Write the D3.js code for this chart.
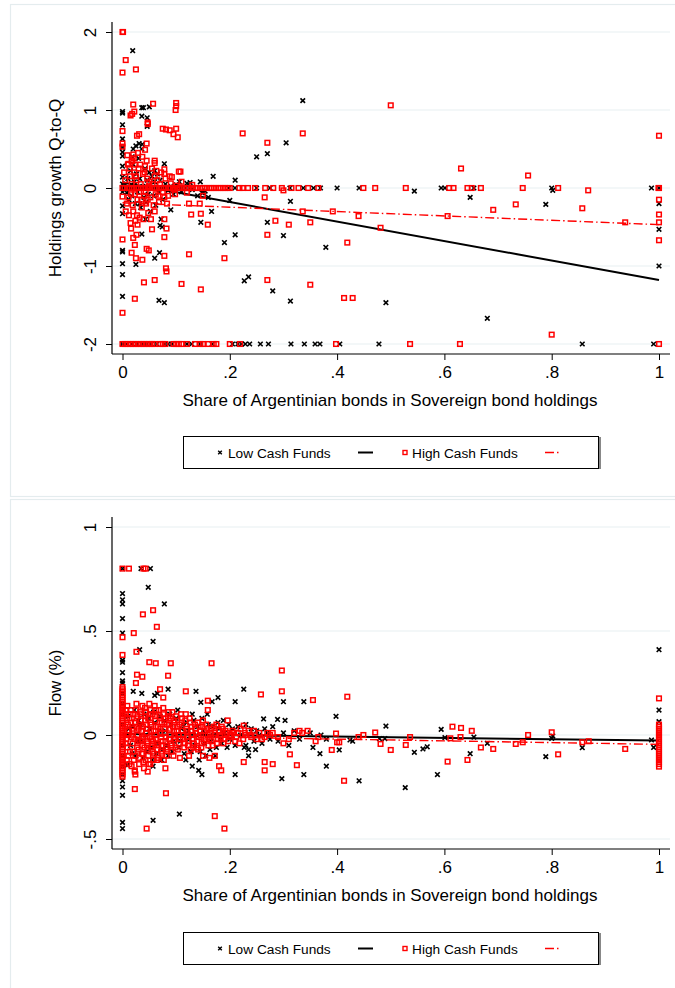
<!DOCTYPE html>
<html><head><meta charset="utf-8">
<script src="https://cdn.jsdelivr.net/npm/d3@7"></script>
<style>body{margin:0;background:#fff}svg{display:block}text{font-family:"Liberation Sans",Arial,sans-serif;fill:#000}</style>
</head><body><div id="chart"></div>
<script>
// ---------------- DATA ----------------
const xTicks = [0, 0.2, 0.4, 0.6, 0.8, 1];
const xTickLabels = ["0", ".2", ".4", ".6", ".8", "1"];
const xTitle = "Share of Argentinian bonds in Sovereign bond holdings";
const legendLabels = ["Low Cash Funds", "High Cash Funds"];

// Panel 1: Holdings growth Q-to-Q
const topYTicks = [-2, -1, 0, 1, 2];
const topYTickLabels = ["-2", "-1", "0", "1", "2"];
const topYTitle = "Holdings growth Q-to-Q";
const topLowFit = [0.07, -1.25];   // intercept, slope
const topHighFit = [-0.19, -0.28];
const topLowZeroX = [0,0.003,0.007,0.01,0.014,0.018,0.021,0.025,0.029,0.033,0.036,0.04,0.044,0.047,0.051,0.055,0.059,0.062,0.066,0.07,0.074,0.078,0.083,0.088,0.093,0.099,0.104,0.11,0.117,0.124,0.131,0.1975,0.2097,0.25,0.275,0.312,0.337,0.356,0.369,0.40,0.441,0.594,0.601,0.655,0.80,0.986,1.0];
const topLowMinus2X = [0,0.0075,0.017,0.026,0.036,0.045,0.054,0.064,0.079,0.085,0.092,0.12,0.129,0.145,0.167,0.205,0.215,0.222,0.229,0.237,0.257,0.272,0.314,0.339,0.359,0.368,0.405,0.478,0.857,0.99];
const topLowZeroColY = [0.98,0.96,0.81,0.63,0.52,0.46,0.41,0.28,0.14,0.05,-0.05,-0.23,-0.33,-0.8,-0.82,-0.97,-1.11,-1.39];
const topLowPts = [[0.019,1.76],[0.036,1.03],[0.039,1.03],[0.05,1.04],[0.036,0.92],[0.046,0.9],[0.046,0.79],[0.02,0.5],[0.025,0.54],[0.031,0.57],[0.037,0.56],[0.018,0.4],[0.078,0.31],[0.06,0.22],[0.169,0.15],[0.21,0.1],[0.145,0.08],[0.126,0.07],[0.106,0.08],[0.148,-0.06],[0.154,-0.04],[0.25,0.4],[0.27,0.44],[0.305,0.58],[0.336,1.12],[0.2,-0.16],[0.166,-0.3],[0.146,-0.44],[0.21,-0.6],[0.19,-0.7],[0.27,-0.44],[0.3,-0.61],[0.313,-0.17],[0.379,-0.76],[0.09,-0.28],[0.072,-0.4],[0.07,-0.48],[0.074,-0.5],[0.069,-0.83],[0.06,-0.9],[0.025,-0.98],[0.068,-1.44],[0.078,-1.47],[0.227,-1.19],[0.235,-1.14],[0.28,-1.32],[0.313,-1.45],[0.036,-0.59],[0.043,-0.4],[0.032,-0.2],[0.544,-0.04],[0.648,-0.12],[0.789,-0.21],[0.802,-0.03],[1.0,-0.2],[1.0,-0.53],[1.0,-1.0],[0.491,-1.47],[0.68,-1.67],
 [0.005,0.05],[0.008,-0.06],[0.01,0.12],[0.012,-0.15],[0.015,0.22],[0.017,-0.1],[0.02,0.3],[0.022,0.08],[0.024,-0.2],[0.026,0.18],[0.028,-0.05],[0.03,0.38],[0.032,0.12],[0.034,-0.25],[0.036,0.5],[0.038,0.02],[0.04,-0.12],[0.042,0.25],[0.044,-0.18],[0.046,0.1],[0.048,-0.08],[0.05,0.2],[0.052,-0.3],[0.055,0.15],[0.058,-0.1],[0.06,0.08],[0.062,-0.22],[0.065,0.18],[0.068,-0.06],[0.07,0.1],[0.075,-0.15],[0.08,0.05],[0.085,-0.03],[0.09,0.02],[0.095,-0.08],[0.1,0.04],[0.11,-0.05],[0.12,0.06],[0.13,-0.02],[0.14,-0.1],[0.15,-0.06],[0.16,-0.12]];
const topHighZeroX = [0,0.004,0.009,0.013,0.017,0.021,0.026,0.03,0.034,0.038,0.043,0.047,0.051,0.055,0.06,0.064,0.068,0.072,0.077,0.081,0.085,0.089,0.094,0.098,0.102,0.106,0.111,0.115,0.119,0.123,0.128,0.132,0.136,0.14,0.145,0.149,0.153,0.157,0.162,0.166,0.17,0.174,0.179,0.183,0.187,0.191,0.196,0.2,0.218,0.224,0.234,0.247,0.266,0.281,0.297,0.315,0.328,0.346,0.365,0.449,0.471,0.528,0.609,0.617,0.643,0.651,0.668,0.746,0.812,1.0];
const topHighMinus2X = [0,0.005,0.01,0.015,0.02,0.025,0.03,0.035,0.04,0.045,0.05,0.055,0.06,0.07,0.075,0.08,0.095,0.1,0.105,0.11,0.12,0.135,0.145,0.15,0.16,0.17,0.175,0.2,0.219,0.398,0.536,0.629,1.0];
const topHighPts = [[0,2],[0.001,2],[0.006,1.64],[0,1.48],[0.025,1.52],[0.02,1.07],[0.022,0.98],[0.015,0.93],[0.018,0.95],[0.057,1.08],[0.1,1.09],[0.1,1.05],[0.099,1.0],[0,0.73],[0,0.57],[0,0.53],[0.027,0.67],[0.031,0.69],[0.047,0.84],[0.047,0.82],[0.075,0.76],[0.081,0.75],[0.088,0.74],[0.095,0.69],[0.1,0.76],[0.103,0.65],[0.045,0.57],[0.042,0.49],[0.02,0.43],[0.017,0.34],[0.023,0.3],[0.011,0.31],[0.06,0.35],[0.06,0.32],[0.078,0.24],[0.078,0.18],[0.092,0.14],[0.105,0.21],[0.108,0.21],[0.224,0.7],[0.336,0.7],[0.27,0.58],[0.265,-0.12],[0.3,-0.03],[0.124,-0.2],[0.144,-0.2],[0.128,-0.34],[0.146,-0.33],[0.159,-0.47],[0.083,-0.2],[0.078,-0.4],[0.082,-0.52],[0.078,-0.63],[0.055,-0.53],[0.016,-0.52],[0.02,-0.64],[0.023,-0.73],[0.026,-0.6],[0.028,-0.47],[0,-0.66],[0.045,-0.78],[0.049,-0.8],[0.017,-0.83],[0.025,-0.9],[0.037,-0.92],[0.078,-0.87],[0.081,-1.03],[0.082,-1.07],[0.124,-0.85],[0.19,-0.9],[0.04,-1.21],[0.06,-1.18],[0.11,-1.23],[0.146,-1.3],[0.27,-1.18],[0.35,-1.24],[0.31,-0.47],[0.285,-0.42],[0.27,-0.6],[0.35,-0.44],[0.023,-1.42],[0,-1.6],[0.336,-0.3],[0.392,-0.3],[0,-0.11],
 [0.5,1.06],[1.0,0.67],[0.631,0.25],[0.756,0.16],[0.868,-0.03],[1.0,-0.15],[0.733,-0.21],[0.691,-0.28],[0.857,-0.26],[0.44,-0.36],[0.606,-0.36],[0.481,-0.51],[0.937,-0.44],[1.0,-0.34],[1.0,-0.44],[1.0,-0.67],[0.419,-0.7],[0.413,-1.41],[0.429,-1.41],[0.8,-1.88],[0.999,0],
 [0.005,0.1],[0.008,-0.2],[0.01,0.3],[0.012,-0.35],[0.014,0.15],[0.016,-0.08],[0.018,0.35],[0.02,-0.3],[0.022,0.2],[0.024,-0.42],[0.026,0.1],[0.028,-0.15],[0.03,0.25],[0.032,-0.38],[0.034,0.05],[0.036,-0.25],[0.038,0.18],[0.04,-0.1],[0.042,0.28],[0.044,-0.2],[0.046,0.12],[0.048,-0.32],[0.05,0.08],[0.052,-0.12],[0.055,0.25],[0.058,-0.22],[0.06,0.15],[0.062,-0.08],[0.065,0.1],[0.068,-0.18],[0.07,0.05],[0.075,-0.05],[0.08,0.12],[0.085,-0.1],[0.09,0.06],[0.095,-0.02],[0.1,0.03],[0.11,0.08],[0.12,-0.06],[0.13,0.04],[0.15,-0.1],
 [0.003,0.2],[0.006,-0.3],[0.009,0.42],[0.011,-0.12],[0.013,0.25],[0.015,-0.45],[0.017,0.05],[0.019,-0.22],[0.021,0.38],[0.023,-0.08],[0.025,0.15],[0.027,-0.35],[0.029,0.45],[0.031,-0.05],[0.033,0.3],[0.035,-0.15],[0.037,0.4],[0.039,-0.4],[0.041,0.2],[0.043,-0.05],[0.045,0.35],[0.047,-0.15],[0.049,0.02],[0.053,-0.4],[0.056,0.05],[0.06,-0.3],[0.063,0.22],[0.067,-0.1],[0.072,0.2],[0.078,-0.12],[0.088,0.15],[0.098,-0.08]];

// Panel 2: Flow (%)
const botYTicks = [-0.5, 0, 0.5, 1];
const botYTickLabels = ["-.5", "0", ".5", "1"];
const botYTitle = "Flow (%)";
const botLowFit = [0.005, -0.032];
const botHighFit = [-0.003, -0.042];
const botLowZeroColY = [0.8,0.68,0.65,0.63,0.56,0.49,0.36,0.35,0.3,0.26,0.25,0.2,0.15,0.1,0.05,-0.05,-0.1,-0.15,-0.19,-0.22,-0.25,-0.29,-0.42,-0.45];
const botLowPts = [[0.0345,0.8],[0.052,0.8],[0.048,0.71],[0.078,0.63],[0.057,0.45],[0.032,0.41],[0.02,0.21],[0.036,0.2],[0.06,0.19],[0.065,0.2],[0.085,0.22],[0.137,0.21],[0.146,0.157],[0.167,0.16],[0.178,0.18],[0.21,0.16],[0.226,0.22],[0.263,0.077],[0.303,0.07],[0.289,0.075],[0.3,0.16],[0.338,0.16],[0.398,0.09],[0.009,-0.145],[0.057,-0.15],[0.13,-0.15],[0.142,-0.17],[0.148,-0.19],[0.106,-0.38],[0.057,-0.41],[0.21,-0.19],[0.297,-0.21],[0.338,-0.19],[0.38,-0.15],[0.355,-0.06],[0.368,-0.09],[0.23,-0.05],[0.235,-0.1],[0.248,-0.07],[0.227,-0.06],
 [1.0,0.41],[1.0,0.12],[1.0,0.064],[0.491,0.043],[0.594,0.027],[0.424,-0.024],[0.429,-0.03],[0.404,-0.072],[0.441,-0.22],[0.527,-0.253],[0.544,-0.083],[0.56,-0.067],[0.568,-0.057],[0.587,-0.19],[0.601,-0.013],[0.655,-0.01],[0.648,-0.09],[0.68,-0.04],[0.479,-0.017],[0.489,-0.017],[0.789,-0.104],[0.8,-0.016],[0.802,-0.005],[0.857,-0.061],[0.986,-0.024],[0.99,-0.06],
 [0.01,0.09],[0.015,-0.05],[0.02,0.04],[0.025,-0.1],[0.03,0.07],[0.035,-0.03],[0.04,0.1],[0.045,-0.08],[0.05,0.03],[0.055,-0.12],[0.06,0.06],[0.065,-0.04],[0.07,0.09],[0.075,-0.07],[0.08,0.02],[0.085,-0.1],[0.09,0.05],[0.095,-0.03],[0.1,0.08],[0.105,-0.06],[0.11,0.03],[0.115,-0.09],[0.12,0.06],[0.125,-0.02],[0.13,0.1],[0.135,-0.05],[0.14,0.04],[0.145,-0.08],[0.15,0.02],[0.155,-0.1],[0.16,0.05],[0.165,-0.03],[0.17,0.0],[0.175,-0.06],[0.18,0.03],[0.185,-0.04],[0.19,0.01],[0.2,-0.02],[0.205,0.03],[0.21,-0.05],[0.215,0.04],[0.22,0.0],[0.23,0.05],[0.235,-0.07],[0.24,0.03],[0.245,-0.03],[0.25,0.02],[0.255,0.0],[0.26,-0.04],[0.265,0.03],[0.27,0.01],[0.275,-0.02],[0.28,0.04],[0.29,-0.03],[0.3,0.01],[0.31,-0.05],[0.32,0.02],[0.33,-0.02],[0.35,0.01],[0.37,0.0],[0.38,-0.02],
 [0.012,0.03],[0.018,-0.09],[0.022,0.12],[0.028,-0.03],[0.033,0.05],[0.038,-0.11],[0.043,0.0],[0.048,0.08],[0.053,-0.06],[0.058,0.11],[0.063,-0.09],[0.068,0.02],[0.073,-0.12],[0.078,0.07],[0.083,-0.05],[0.088,0.1],[0.093,-0.08],[0.098,0.0],[0.103,0.12],[0.108,-0.03],[0.113,0.05],[0.118,-0.12],[0.123,0.02],[0.128,-0.08],[0.133,0.07],[0.138,0.0],[0.143,-0.12],[0.148,0.08],[0.153,-0.04],[0.158,0.1],[0.163,-0.07],[0.168,0.04],[0.173,-0.1],[0.178,0.06],[0.183,-0.02],[0.188,0.07],[0.195,-0.06],[0.198,0.05]];
const botHighZeroColY = [0.8,0.47,0.385,0.23,0.22,0.21,0.2,0.19,0.18,0.17,0.16,0.15,0.14,0.13,0.12,0.11,0.1,0.09,0.08,0.07,0.06,0.05,0.04,0.03,0.02,0.01,0,-0.01,-0.02,-0.03,-0.04,-0.05,-0.06,-0.07,-0.08,-0.09,-0.1,-0.11,-0.12,-0.13,-0.14,-0.15,-0.16,-0.17,-0.18,-0.19,-0.2];
const botHighOneColY = [0.176,0.05,0.04,0.03,0.02,0.01,0.0,-0.01,-0.02,-0.03,-0.04,-0.05,-0.06,-0.07,-0.08,-0.09,-0.1,-0.11,-0.12,-0.13,-0.14,-0.152];
const botHighPts = [[0.012,0.8],[0.039,0.8],[0.043,0.8],[0.021,0.49],[0.038,0.58],[0.057,0.6],[0.064,0.52],[0.026,0.4],[0.05,0.35],[0.062,0.345],[0.09,0.345],[0.166,0.345],[0.027,0.29],[0.037,0.28],[0.085,0.285],[0.025,0.25],[0.07,0.22],[0.076,0.18],[0.118,0.21],[0.159,0.165],[0.159,0.12],[0.297,0.31],[0.297,0.21],[0.258,0.195],[0.355,0.168],[0.196,0.07],[0.226,0.045],[0.023,-0.26],[0.081,-0.28],[0.045,-0.45],[0.172,-0.39],[0.19,-0.45],[0.047,-0.176],[0.023,-0.176],[0.08,-0.16],[0.18,-0.15],[0.184,-0.17],[0.226,-0.13],[0.265,-0.13],[0.265,-0.17],[0.28,-0.14],[0.325,-0.145],[0.312,-0.093],[0.39,-0.072],[0.052,-0.14],[0.15,-0.1],[0.162,-0.11],[0.172,-0.1],
 [0.419,0.184],[0.413,-0.22],[0.615,0.04],[0.631,0.034],[0.651,0.02],[0.8,0.013],[0.756,0.0],[0.471,0.012],[0.449,0.0],[0.44,-0.01],[0.536,-0.01],[0.398,0.007],[0.4,-0.035],[0.404,-0.035],[0.481,-0.043],[0.5,-0.072],[0.528,-0.048],[0.606,-0.128],[0.611,-0.016],[0.63,-0.01],[0.643,-0.12],[0.668,-0.06],[0.691,-0.067],[0.733,-0.043],[0.746,-0.035],[0.812,-0.093],[0.857,-0.035],[0.869,-0.03],[0.937,-0.067],
 [0.006,0.12],[0.008,0.08],[0.01,0.05],[0.012,0.02],[0.007,-0.02],[0.009,-0.06],[0.011,-0.1],[0.013,-0.14],[0.015,0.1],[0.016,0.06],[0.018,0.03],[0.017,-0.01],[0.019,-0.04],[0.02,-0.08],[0.021,-0.12],[0.023,-0.17],[0.024,-0.19],[0.025,0.12],[0.026,0.08],[0.027,0.04],[0.028,0.0],[0.029,-0.03],[0.03,-0.07],[0.031,-0.11],[0.033,0.11],[0.034,0.07],[0.035,0.02],[0.036,-0.02],[0.037,-0.05],[0.038,-0.09],[0.039,-0.13],[0.04,-0.16],[0.042,0.13],[0.043,0.09],[0.044,0.05],[0.045,0.01],[0.046,-0.03],[0.047,-0.07],[0.048,-0.1],[0.05,0.15],[0.051,0.1],[0.052,0.06],[0.053,0.02],[0.054,-0.02],[0.055,-0.05],[0.056,-0.08],[0.058,-0.12],[0.06,0.14],[0.061,0.09],[0.062,0.04],[0.063,0.0],[0.064,-0.04],[0.065,-0.07],[0.066,-0.11],[0.068,0.12],[0.07,0.08],[0.071,0.03],[0.072,-0.01],[0.073,-0.05],[0.074,-0.09],[0.076,0.1],[0.078,0.06],[0.079,0.01],[0.08,-0.03],[0.081,-0.06],[0.082,-0.1],[0.085,0.09],[0.087,0.05],[0.088,0.0],[0.09,-0.04],[0.091,-0.08],[0.093,0.11],[0.095,0.07],[0.096,0.02],[0.097,-0.02],[0.099,-0.06],[0.1,0.09],[0.102,0.04],[0.104,0.0],[0.105,-0.04],[0.107,-0.11],[0.109,0.1],[0.11,0.06],[0.112,0.02],[0.113,-0.02],[0.115,-0.06],[0.117,0.07],[0.119,0.03],[0.12,-0.01],[0.122,-0.05],[0.124,-0.1],[0.126,0.06],[0.128,0.02],[0.13,-0.02],[0.132,-0.06],[0.135,0.05],[0.137,0.01],[0.139,-0.03],[0.141,-0.07],[0.144,0.04],[0.146,0.0],[0.148,-0.04],[0.15,0.07],[0.153,0.02],[0.155,-0.02],[0.158,0.03],[0.16,-0.05],[0.163,0.01],[0.166,-0.03],[0.17,0.04],[0.173,0.0],[0.176,-0.04],[0.18,0.02],[0.183,-0.01],[0.187,0.03],[0.19,-0.02],[0.195,0.01],[0.2,-0.01],[0.205,0.02],[0.21,-0.03],[0.215,0.01],[0.22,0.03],[0.225,-0.02],[0.23,0.0],[0.235,0.02],[0.24,-0.01],[0.25,-0.02],[0.255,0.01],[0.26,-0.02],[0.27,0.01],[0.28,0.01],[0.29,-0.01],[0.3,-0.04],[0.31,-0.02],[0.32,0.01],[0.33,0.02],[0.335,0.01],[0.345,0.02],[0.36,-0.03],[0.365,-0.01],
 [0.004,0.1],[0.005,0.04],[0.006,-0.04],[0.008,-0.12],[0.009,0.14],[0.011,0.0],[0.013,0.08],[0.014,-0.08],[0.016,0.12],[0.017,-0.15],[0.019,0.02],[0.02,0.1],[0.022,-0.02],[0.023,0.06],[0.024,-0.1],[0.026,0.15],[0.027,-0.06],[0.028,0.09],[0.03,0.03],[0.031,-0.14],[0.032,0.05],[0.033,-0.03],[0.035,0.1],[0.036,-0.09],[0.037,0.14],[0.038,0.04],[0.039,-0.01],[0.041,-0.06],[0.042,0.07],[0.043,-0.12],[0.044,0.11],[0.046,0.03],[0.047,-0.04],[0.048,0.08],[0.049,-0.14],[0.051,-0.01],[0.052,0.12],[0.053,-0.06],[0.054,0.05],[0.056,0.1],[0.057,-0.03],[0.058,0.02],[0.059,-0.09],[0.061,0.07],[0.062,-0.02],[0.063,0.12],[0.064,-0.12],[0.066,0.04],[0.067,-0.05],[0.069,0.09],[0.07,0.01],[0.072,-0.08],[0.073,0.06],[0.075,-0.03],[0.076,0.13],[0.077,-0.12],[0.078,0.03],[0.08,0.08],[0.081,-0.01],[0.083,0.05],[0.084,-0.07],[0.086,0.11],[0.087,-0.02],[0.089,0.03],[0.09,0.08],[0.092,-0.05],[0.094,0.04],[0.095,-0.1],[0.097,0.06],[0.098,-0.01],[0.101,0.02],[0.103,-0.07],[0.106,0.05],[0.108,-0.02],[0.111,0.08],[0.114,0.0],[0.116,-0.04],[0.118,0.1],[0.121,0.02],[0.123,-0.03],[0.125,0.08],[0.127,-0.07],[0.129,0.04],[0.131,0.0],[0.133,-0.04],[0.136,0.03],[0.138,-0.06],[0.14,0.06],[0.142,-0.01],[0.145,0.02],[0.147,-0.06],[0.149,0.04],[0.152,-0.03],[0.156,0.05],[0.159,0.0],[0.162,-0.02],[0.165,0.03],[0.168,-0.05],[0.172,0.01],[0.175,0.05],[0.178,-0.02],[0.182,0.0],[0.185,0.04],[0.188,-0.04],[0.192,0.02],[0.197,-0.03],[0.202,0.0],[0.208,0.01],[0.212,-0.01],[0.218,-0.04],[0.228,0.01],[0.238,0.0],[0.245,0.02],[0.265,-0.01],[0.275,0.0]];

// ---------------- DRAW ----------------
const W = 675, H = 988;
const svg = d3.select("#chart").append("svg").attr("width", W).attr("height", H);
const FONT = 17;
const gridCol = "#e8eff1", frameCol = "#e4ecee";
const red = "#ff0000";

function panel(cfg) {
  const g = svg.append("g");
  g.append("rect").attr("x", 10.5).attr("y", cfg.frameTop + 0.5).attr("width", W).attr("height", cfg.frameH)
    .attr("fill", "#fff").attr("stroke", frameCol).attr("stroke-width", 1.2);
  const x = d3.scaleLinear().domain([0, 1]).range([122.5, 659]);
  const y = d3.scaleLinear().domain(cfg.yDomain).range(cfg.yRange);
  const axX = 112, axBottom = cfg.axBottom, axTop = cfg.axTop, axRight = 670;
  g.append("g").selectAll("line").data(cfg.yTicks).join("line")
    .attr("x1", axX).attr("x2", axRight).attr("y1", d => y(d)).attr("y2", d => y(d))
    .attr("stroke", gridCol).attr("stroke-width", 1.2);
  const yAxis = d3.axisLeft(y).tickValues(cfg.yTicks).tickSize(6).tickFormat((d, i) => cfg.yLabels[i]);
  const ya = g.append("g").attr("transform", `translate(${axX},0)`).call(yAxis);
  ya.select(".domain").remove();
  ya.selectAll(".tick line").attr("stroke", "#000").attr("stroke-width", 1);
  ya.selectAll(".tick text").attr("font-size", FONT).attr("font-family", '"Liberation Sans",Arial,sans-serif')
    .attr("text-anchor", "middle").attr("x", 0).attr("dy", 0)
    .attr("transform", "translate(-22,0) rotate(-90)").attr("y", 6);
  g.append("line").attr("x1", axX).attr("x2", axX).attr("y1", axTop).attr("y2", axBottom).attr("stroke", "#000").attr("stroke-width", 1.2);
  const xAxis = d3.axisBottom(x).tickValues(xTicks).tickSize(6).tickFormat((d, i) => xTickLabels[i]);
  const xa = g.append("g").attr("transform", `translate(0,${axBottom})`).call(xAxis);
  xa.select(".domain").remove();
  xa.selectAll(".tick line").attr("stroke", "#000").attr("stroke-width", 1);
  xa.selectAll(".tick text").attr("font-size", FONT).attr("font-family", '"Liberation Sans",Arial,sans-serif').attr("y", 12).attr("dy", "0.71em");
  g.append("line").attr("x1", axX).attr("x2", axRight).attr("y1", axBottom).attr("y2", axBottom).attr("stroke", "#000").attr("stroke-width", 1.2);
  g.append("text").attr("x", 390).attr("y", axBottom + 52).attr("text-anchor", "middle").attr("font-size", FONT).text(xTitle);
  g.append("text").attr("transform", `translate(61,${(axTop + axBottom) / 2}) rotate(-90)`).attr("text-anchor", "middle").attr("font-size", FONT).text(cfg.yTitle);

  const cross = "M-2.3,-2.3L2.3,2.3M-2.3,2.3L2.3,-2.3";
  g.append("g").selectAll("path").data(cfg.low).join("path")
    .attr("d", cross).attr("transform", d => `translate(${x(d[0])},${y(d[1])})`)
    .attr("stroke", "#000").attr("stroke-width", 1.6).attr("fill", "none");
  const fitLine = f => d3.line().x(d => x(d)).y(d => y(f[0] + f[1] * d))([0, 1]);
  g.append("path").attr("d", fitLine(cfg.lowFit)).attr("stroke", "#000").attr("stroke-width", 2).attr("fill", "none");
  g.append("g").selectAll("rect").data(cfg.high).join("rect")
    .attr("x", d => x(d[0]) - 2.3).attr("y", d => y(d[1]) - 2.3).attr("width", 4.6).attr("height", 4.6)
    .attr("stroke", red).attr("stroke-width", 1.5).attr("fill", "none");
  g.append("path").attr("d", fitLine(cfg.highFit)).attr("stroke", red).attr("stroke-width", 1.4)
    .attr("stroke-dasharray", "9,3,1.5,3").attr("fill", "none");

  const ly = cfg.legendTop;
  const lg = g.append("g");
  lg.append("line").attr("x1", 600).attr("x2", 600).attr("y1", ly + 1).attr("y2", ly + 33).attr("stroke", "#888").attr("stroke-width", 2);
  lg.append("rect").attr("x", 183.5).attr("y", ly + 0.5).attr("width", 415).attr("height", 32)
    .attr("fill", "#fff").attr("stroke", "#000").attr("stroke-width", 1);
  const cy = ly + 16.5;
  lg.append("path").attr("d", "M-1.8,-1.8L1.8,1.8M-1.8,1.8L1.8,-1.8").attr("transform", `translate(220,${cy})`).attr("stroke", "#000").attr("stroke-width", 1.4);
  lg.append("text").attr("x", 228).attr("y", cy + 5).attr("font-size", 13.7).text(legendLabels[0]);
  lg.append("line").attr("x1", 358).attr("x2", 373).attr("y1", cy).attr("y2", cy).attr("stroke", "#000").attr("stroke-width", 2);
  lg.append("rect").attr("x", 403).attr("y", cy - 2).attr("width", 4).attr("height", 4).attr("stroke", red).attr("stroke-width", 1.4).attr("fill", "none");
  lg.append("text").attr("x", 412).attr("y", cy + 5).attr("font-size", 13.7).text(legendLabels[1]);
  lg.append("line").attr("x1", 545).attr("x2", 560).attr("y1", cy).attr("y2", cy).attr("stroke", red).attr("stroke-width", 1.4).attr("stroke-dasharray", "9,3,1.5,3");
}

const topLow = topLowZeroX.map(v => [v, 0]).concat(topLowMinus2X.map(v => [v, -2]), topLowZeroColY.map(v => [0, v]), topLowPts);
const topHigh = topHighZeroX.map(v => [v, 0]).concat(topHighMinus2X.map(v => [v, -2]), topHighPts);
panel({frameTop: 4, frameH: 492, yDomain: [-2, 2], yRange: [344, 32], axTop: 22, axBottom: 354,
  yTicks: topYTicks, yLabels: topYTickLabels, yTitle: topYTitle, low: topLow, high: topHigh,
  lowFit: topLowFit, highFit: topHighFit, legendTop: 436});

const botLow = botLowZeroColY.map(v => [0, v]).concat(botLowPts);
const botHigh = botHighZeroColY.map(v => [0, v]).concat(botHighOneColY.map(v => [1, v]), botHighPts);
panel({frameTop: 499, frameH: 500, yDomain: [-0.5, 1], yRange: [839, 527], axTop: 517, axBottom: 849,
  yTicks: botYTicks, yLabels: botYTickLabels, yTitle: botYTitle, low: botLow, high: botHigh,
  lowFit: botLowFit, highFit: botHighFit, legendTop: 932});
</script></body></html>
